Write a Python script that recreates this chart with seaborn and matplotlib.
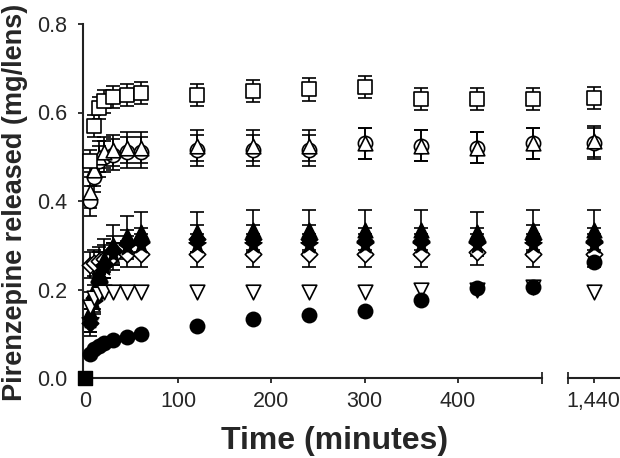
import numpy as np
import pandas as pd
import seaborn as sns
import matplotlib.pyplot as plt

# sampling times (minutes)
time = [0, 5, 10, 15, 20, 30, 45, 60, 120, 180, 240, 300, 360, 420, 480, 1440]

# mean release (mg/lens) per formulation
open_square = [0, 0.49, 0.57, 0.61, 0.625, 0.635, 0.64, 0.645, 0.64, 0.648, 0.652, 0.657, 0.63, 0.63, 0.63, 0.632]
open_triangle = [0, 0.42, 0.47, 0.50, 0.51, 0.515, 0.52, 0.52, 0.525, 0.525, 0.525, 0.53, 0.525, 0.52, 0.53, 0.535]
open_circle = [0, 0.40, 0.455, 0.49, 0.50, 0.505, 0.51, 0.51, 0.515, 0.515, 0.515, 0.53, 0.525, 0.52, 0.53, 0.53]
filled_triangle = [0, 0.15, 0.20, 0.24, 0.27, 0.30, 0.32, 0.33, 0.33, 0.335, 0.335, 0.335, 0.335, 0.33, 0.335, 0.335]
filled_diamond = [0, 0.125, 0.18, 0.22, 0.255, 0.29, 0.305, 0.31, 0.315, 0.315, 0.315, 0.31, 0.31, 0.31, 0.315, 0.31]
filled_star = [0, 0.13, 0.17, 0.21, 0.25, 0.28, 0.295, 0.30, 0.30, 0.30, 0.30, 0.30, 0.30, 0.30, 0.30, 0.30]
open_diamond = [0, 0.255, 0.26, 0.265, 0.27, 0.275, 0.28, 0.28, 0.28, 0.28, 0.28, 0.28, 0.28, 0.285, 0.28, 0.28]
open_down = [0, 0.16, 0.18, 0.19, 0.195, 0.195, 0.195, 0.195, 0.195, 0.195, 0.195, 0.195, 0.2, 0.2, 0.205, 0.195]
filled_circle = [0, 0.055, 0.065, 0.072, 0.078, 0.085, 0.093, 0.10, 0.118, 0.133, 0.142, 0.151, 0.176, 0.203, 0.206, 0.262]

# standard deviations
sd_square = 0.025
sd_triangle = 0.035
sd_circle = 0.035
sd_ftri = 0.045
sd_fdia = 0.03
sd_star = 0.025
sd_odia = 0.03

series = [
    ("open_diamond", open_diamond, sd_odia, "D", "white"),
    ("filled_star", filled_star, sd_star, "*", "black"),
    ("filled_diamond", filled_diamond, sd_fdia, "D", "black"),
    ("filled_triangle", filled_triangle, sd_ftri, "^", "black"),
    ("open_circle", open_circle, sd_circle, "o", "white"),
    ("open_triangle", open_triangle, sd_triangle, "^", "white"),
    ("open_square", open_square, sd_square, "s", "white"),
    ("open_down", open_down, 0, "v", "white"),
    ("filled_circle", filled_circle, 0, "o", "black"),
]

sns.set_theme(style="ticks")
plt.rcParams['font.family'] = ['Liberation Sans', 'DejaVu Sans']

fig = plt.figure(figsize=(6.2, 4.58), dpi=100)
ax = fig.add_axes([83 / 620, 80 / 458, 459 / 620, 354 / 458])
ax2 = fig.add_axes([568 / 620, 80 / 458, 52 / 620, 354 / 458], sharey=ax)

sizes = {"D": 70, "*": 160, "^": 110, "o": 105, "s": 100, "v": 110}

for name, vals, sd, mk, fc in series:
    df = pd.DataFrame({"time": time, "value": vals})
    for a in (ax, ax2):
        if sd > 0:
            a.errorbar(df["time"][1:], df["value"][1:], yerr=sd, fmt="none",
                       ecolor="black", elinewidth=1.2, capsize=4.7, capthick=1.2, zorder=2)
        sns.scatterplot(data=df[1:], x="time", y="value", marker=mk, s=sizes[mk],
                        facecolor=fc, edgecolor="black", linewidth=1.2, ax=a, zorder=3,
                        legend=False, clip_on=False)

# common origin point
ax.scatter([time[0]], [filled_circle[0]], marker="s", s=110, color="black",
           zorder=5, clip_on=False)

ax.set_xlim(-2, 490)
ax.set_ylim(0, 0.8)
ax2.set_xlim(1413, 1468)
ax.set_xticks([0, 100, 200, 300, 400])
ax.set_yticks([0, 0.2, 0.4, 0.6, 0.8])
ax.set_yticklabels(["0.0", "0.2", "0.4", "0.6", "0.8"])
ax2.set_xticks([1440])
ax2.set_xticklabels(["1,440"])

for a in (ax, ax2):
    a.spines["top"].set_visible(False)
    a.spines["right"].set_visible(False)
    for s in a.spines.values():
        s.set_linewidth(1.5)
        s.set_color("#222222")
    a.tick_params(direction="out", length=3.5, width=1.3, labelsize=15.5, color="#222222", pad=6)
    a.set_xlabel("")
    a.set_ylabel("")
ax.tick_params(axis="y", pad=8)

ax2.spines["left"].set_visible(False)
ax2.tick_params(axis="y", left=False, labelleft=False)

# break marks at the ends of the two x segments
ax.set_xticks([490], minor=True)
ax.tick_params(axis="x", which="minor", direction="inout", length=8, width=1.3)
ax.tick_params(axis="y", which="minor", left=False)
ax2.set_xticks([1413], minor=True)
ax2.tick_params(axis="x", which="minor", direction="inout", length=8, width=1.3)

ax.set_ylabel("Pirenzepine released (mg/lens)", fontsize=19.5, fontweight="bold")
ax.yaxis.set_label_coords(-0.12, 0.495)
fig.text(335 / 620, 17 / 458, "Time (minutes)", fontsize=23, fontweight="bold",
         ha="center", va="center")

fig.savefig("out.png", dpi=100)
